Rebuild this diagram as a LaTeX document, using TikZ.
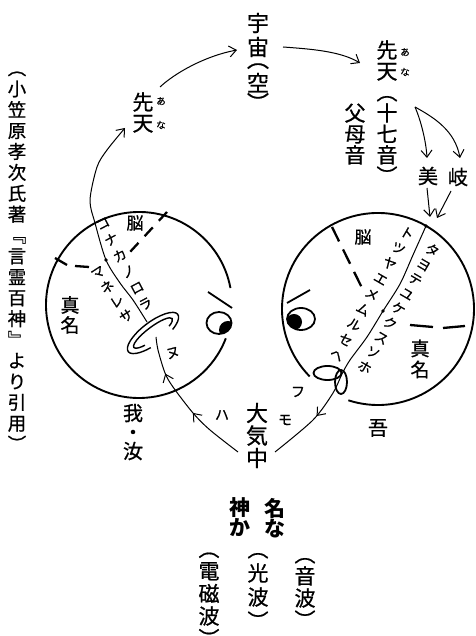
\documentclass[tikz,border=0pt]{standalone}
\usepackage{fontspec}
\setmainfont{Noto Sans CJK JP}[UprightFeatures={FakeBold=0.8}]
\usetikzlibrary{arrows.meta,decorations.markings}
% invisible full-height ideograph, keeps stacked columns evenly centred
\newcommand\vs{\vphantom{漢}}

\tikzset{
  col/.style 2 args={inner sep=0pt,outer sep=0pt,align=center,
    font=\fontsize{#1pt}{#2pt}\selectfont},
  bcol/.style 2 args={inner sep=0pt,outer sep=0pt,align=center,
    font=\fontsize{#1pt}{#2pt}\selectfont\bfseries},
  headline/.style={line width=1.9pt},
  face/.style={line width=1.8pt},
  ring/.style={line width=1.4pt},
  brain/.style={line width=2.3pt},
  conn/.style={line width=1pt},
  flow/.style={conn,postaction={decorate}},
}

\begin{document}
\begin{tikzpicture}[x=1pt,y=1pt,>={Straight Barb[length=7pt,width=11pt]}]
\useasboundingbox (0,0) rectangle (475,636);
\fill[white] (0,0) rectangle (475,636);

% ---------------- heads ----------------
\coordinate (cL) at (139,331);
\coordinate (cR) at (378,327);
\draw[headline] (cL) ++(10.5:93) arc[start angle=10.5,end angle=339,radius=93];
\draw[headline] (cR) ++(252:96) arc[start angle=252,end angle=584.6,radius=96];

% left face: eyebrow and eye looking right
\coordinate (eyeL) at (219,313);
\coordinate (pupL) at (228,306);
\begin{scope}
  \clip (eyeL) ellipse[x radius=12.5,y radius=11];
  \fill (pupL) circle[radius=9];
\end{scope}
\draw[face] (eyeL) ellipse[x radius=12.5,y radius=11];
\coordinate (browL1) at (208,344);
\coordinate (browL2) at (232,328);
\draw[face] (browL1) -- (browL2);

% right face: eyebrow, eye looking left, lips
\coordinate (eyeR) at (301,317);
\coordinate (pupR) at (294,314);
\begin{scope}
  \clip (eyeR) ellipse[x radius=14,y radius=11];
  \fill (pupR) circle[radius=8];
\end{scope}
\draw[face] (eyeR) ellipse[x radius=14,y radius=11];
\coordinate (browR1) at (287,333);
\coordinate (browR2) at (310,346);
\draw[face] (browR1) -- (browR2);
\coordinate (lipU) at (327.5,263);
\coordinate (lipD) at (341,254);
\draw[face,fill=white] (lipU) ellipse[x radius=14,y radius=7];
\draw[face] (lipD) ellipse[x radius=6,y radius=12];

% left ear-like ring
\begin{scope}[shift={(153,303)},rotate=37]
  \draw[ring] (-55:31 and 11) arc[start angle=-55,end angle=250,x radius=31,y radius=11];
  \draw[ring] (-45:24 and 6) arc[start angle=-45,end angle=235,x radius=24,y radius=6];
\end{scope}

% brain boundaries
\draw[brain,dash pattern=on 12pt off 9pt] (167,424) -- (130,384);
\draw[brain] (55,378) -- (67,371);
\draw[brain] (75,370) -- (89,369);
\draw[brain,dash pattern=on 16pt off 9pt] (332,409) -- (363,346);
\draw[brain] (410,311) -- (433,309);
\draw[brain] (443,308) -- (465,310);

% ---------------- labels ----------------
\node[col={22}{24}] (uchu) at (258,573) {\vs 宇\\宙\\[-12pt]︵\\空\\[-4pt]︶\vs};
\node[col={21}{21}] (sentenR) at (387,523) {\vs 先\\天\\︵\\十\\七\\音\\︶\vs};
\node[col={9.5}{20}] (rubyR) at (405,574) {\vs あ\\な\vs};
\node[col={21}{21}] (fubo) at (355,502) {\vs 父\\母\\音\vs};
\node[col={21}{21}] (sentenL) at (143,523.5) {\vs 先\\天\vs};
\node[col={9.5}{24}] (rubyL) at (161,523) {\vs あ\\な\vs};
\node[col={20}{20}] (bi) at (428,460) {美};
\node[col={20}{20}] (ki) at (458,459) {岐};

\node[col={18.5}{20.9}] (source) at (17,380)
  {\vs ︵\\小\\笠\\原\\孝\\次\\氏\\著\\﹃\\言\\霊\\百\\神\\﹄\\よ\\り\\引\\用\\︶\vs};

\node[col={17}{17}] (nouL) at (135,413) {脳};
\node[col={19}{20}] (manaL) at (70,321) {\vs 真\\名\vs};
\node[col={13.5}{18.2},rotate=28] (kanaL1) at (124,372.5) {\vs コ\\ナ\\カ\\ノ\\ロ\\ラ\vs};
\node[col={13.5}{17.3},rotate=33] (kanaL2) at (112,342) {\vs マ\\ネ\\レ\\サ\vs};
\node[col={14}{14},rotate=15] (nu) at (173,283) {ヌ};
\node[col={20}{19}] (ware) at (133,204) {\vs 我\\・\\汝\vs};

\node[col={14}{14}] (ha) at (222,221) {ハ};
\node[col={14}{14}] (fu) at (298,244) {フ};
\node[col={14}{14}] (mo) at (285,216) {モ};
\node[col={22}{22.5}] (taiki) at (257,200.5) {\vs 大\\気\\中\vs};
\node[col={20}{20}] (a) at (378,208) {吾};

\node[col={17}{17}] (nouR) at (363,399) {脳};
\node[col={19}{21}] (manaR) at (420,277) {\vs 真\\名\vs};
\node[col={13.5}{17.6},rotate=-30] (kanaR1) at (372,342) {\vs ト\\ツ\\ヤ\\エ\\メ\\ム\\ル\\セ\\ヘ\vs};
\node[col={13.5}{16.9},rotate=-30] (kanaR2) at (398.5,327.5) {\vs タ\\ヨ\\テ\\ユ\\ケ\\ク\\ス\\ソ\\ホ\vs};

\node[bcol={21}{20}] (kamika) at (240,118) {\vs 神\\か\vs};
\node[bcol={21}{20}] (nana) at (275,118) {\vs 名\\な\vs};
\node[col={21}{22.5}] (denji) at (209,42.5) {\vs ︵\\電\\磁\\波\\︶\vs};
\node[col={21}{24}] (kouha) at (258,51) {\vs ︵\\光\\波\\︶\vs};
\node[col={21}{22}] (onpa) at (305,49) {\vs ︵\\音\\波\\︶\vs};

% ---------------- connectors ----------------
% cosmos and the two heaven labels
\coordinate (uchuOut) at (283,589);
\coordinate (sentenRIn) at (360,573);
\draw[conn,->] (uchuOut) .. controls (310,587) and (340,585) .. (sentenRIn);
\coordinate (sentenLOut) at (160,549);
\coordinate (uchuIn) at (237,586);
\draw[conn,->] (sentenLOut) .. controls (175,563) and (205,580) .. (uchuIn);

% split into 美 and 岐
\coordinate (sentenROut) at (415,529);
\coordinate (biIn) at (427,478);
\coordinate (kiIn) at (460,478);
\draw[conn,->] (sentenROut) .. controls (421,515) and (426,495) .. (biIn);
\draw[conn,->] (sentenROut) .. controls (435,518) and (455,505) .. (kiIn);
\coordinate (biOut) at (427,448);
\coordinate (biHead) at (430,419);
\coordinate (kiOut) at (451,445);
\coordinate (kiHead) at (437,418);
\draw[conn,->] (biOut) -- (biHead);
\draw[conn,->] (kiOut) -- (kiHead);

% through the right head, out of the mouth, into the air
\coordinate (rtop) at (426,410);
\coordinate (rq1) at (413,381);
\coordinate (rq2) at (400,352);
\coordinate (rdot) at (383,325);
\coordinate (rq3) at (367,299);
\coordinate (rq4) at (350,276);
\coordinate (mouth) at (342,262);
\coordinate (rq5) at (333,243);
\coordinate (rq6) at (313,216);
\coordinate (taikiR) at (275,184);
\draw[flow,decoration={markings,mark=at position 0.8 with {\arrow{>}}}]
  plot[smooth] coordinates {(rtop) (rq1) (rq2) (rdot) (rq3) (rq4) (mouth) (rq5) (rq6) (taikiR)};

% from the air into the left head's ear
\coordinate (taikiL) at (238,184);
\coordinate (lq1) at (210,206);
\coordinate (lq2) at (193,223);
\coordinate (lq3) at (173,249);
\coordinate (lq4) at (165,263);
\coordinate (lq5) at (158,286);
\coordinate (earIn) at (156,299);
\draw[flow,decoration={markings,
    mark=at position 0.41 with {\arrow{>}},
    mark=at position 0.74 with {\arrow{>}}}]
  plot[smooth] coordinates {(taikiL) (lq1) (lq2) (lq3) (lq4) (lq5) (earIn)};

% from the ear up through the left head to 先天
\coordinate (earTop) at (147,314);
\coordinate (up1) at (133,336);
\coordinate (up2) at (120,353);
\coordinate (ldot) at (106,376);
\coordinate (up3) at (95,413);
\coordinate (up4) at (90,436);
\coordinate (up5) at (97,469);
\coordinate (up6) at (107,486);
\coordinate (sentenLIn) at (125,508);
\draw[conn,->] plot[smooth] coordinates {(earTop) (up1) (up2) (ldot) (up3) (up4) (up5) (up6) (sentenLIn)};

\fill (rtop) circle[radius=1.8];
\fill (rdot) circle[radius=1.8];
\fill (ldot) circle[radius=1.8];
\end{tikzpicture}
\end{document}
